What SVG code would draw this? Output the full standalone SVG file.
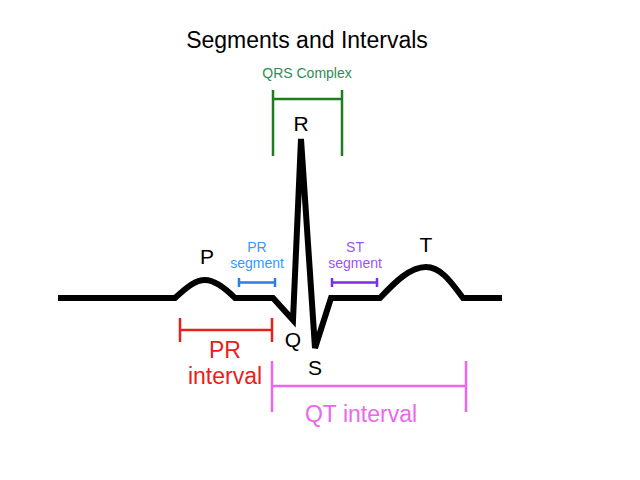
<svg xmlns="http://www.w3.org/2000/svg" width="640" height="480" viewBox="0 0 640 480">
<style>
text{font-family:"Liberation Sans",Arial,sans-serif;text-anchor:middle}
.ecg{fill:none;stroke:#000;stroke-width:6;stroke-linejoin:miter;stroke-miterlimit:4}
.br{fill:none;stroke-width:2.5}
.lbl{font-size:21px;fill:#000}
</style>
<rect width="640" height="480" fill="#fff"/>
<text x="307" y="48" font-size="23" fill="#000">Segments and Intervals</text>
<g id="connectors">
<path class="ecg" d="M58,298 L175,298 C188,286 196,280 205,280 C215,280 225,288 235,298 L273,298 L293,320 L301,139 L315,348 L331,298 L380,298 C395,282 410,267 426,267 C442,267 453,285 463,298 L502,298"/>
</g>
<g id="qrs">
<path class="br" stroke="#1e7d1e" d="M273,90 V156 M342,90 V156 M273,99 H342"/>
<text x="307" y="78" font-size="14" fill="#2e8b57">QRS Complex</text>
</g>
<g id="R"><text class="lbl" x="301" y="131">R</text></g>
<g id="P"><text class="lbl" x="207" y="264">P</text></g>
<g id="Q"><text class="lbl" x="293" y="347">Q</text></g>
<g id="S"><text class="lbl" x="315" y="375">S</text></g>
<g id="T"><text class="lbl" x="426" y="252">T</text></g>
<g id="pr-segment">
<text x="257" y="252" font-size="14" fill="#3399ff">PR</text>
<text x="257" y="268" font-size="14" fill="#3399ff">segment</text>
<path class="br" stroke="#2b7fe0" d="M239,278 V287 M275,278 V287 M239,282.5 H275"/>
</g>
<g id="st-segment">
<text x="355" y="252" font-size="14" fill="#9955ee">ST</text>
<text x="355" y="268" font-size="14" fill="#9955ee">segment</text>
<path class="br" stroke="#7a2fe0" d="M332,278 V287 M377,278 V287 M332,282.5 H377"/>
</g>
<g id="pr-interval">
<path class="br" stroke="#e8201a" d="M180,318 V342 M272,318 V342 M180,330 H272"/>
<text x="225" y="358" font-size="23" fill="#e8201a">PR</text>
<text x="225" y="384" font-size="23" fill="#e8201a">interval</text>
</g>
<g id="qt-interval">
<path class="br" stroke="#ee66ee" d="M272,361 V412 M466,361 V412 M272,386 H466"/>
<text x="361" y="422" font-size="23" fill="#ee66ee">QT interval</text>
</g>
</svg>
